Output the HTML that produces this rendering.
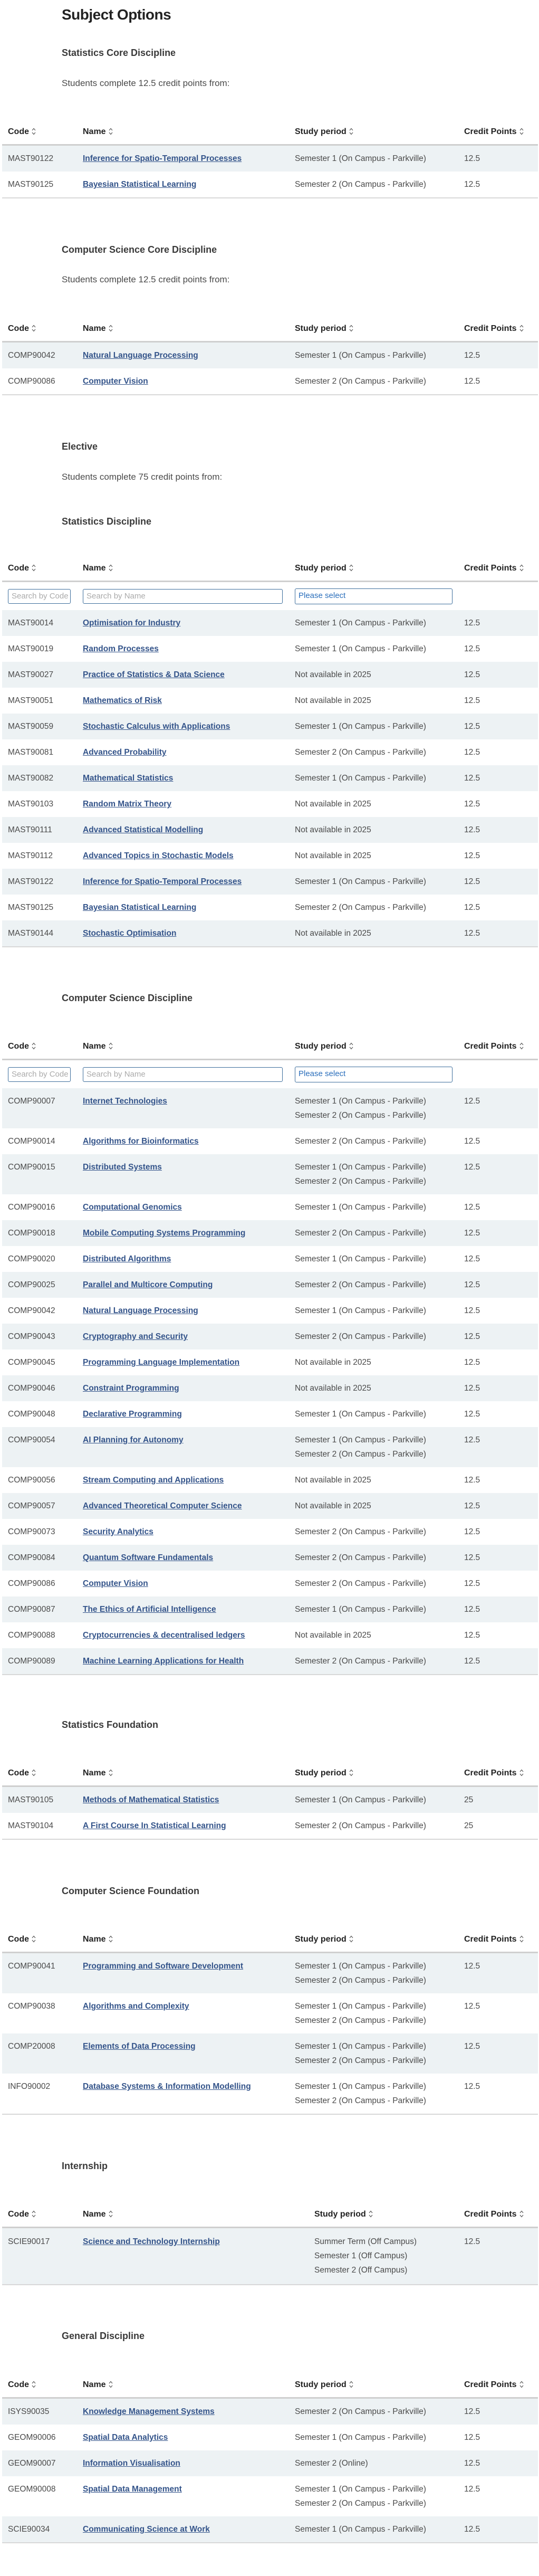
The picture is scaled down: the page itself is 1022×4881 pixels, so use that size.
<!DOCTYPE html>
<html><head><meta charset="utf-8">
<style>
*{margin:0;padding:0;box-sizing:border-box}
body{width:1022px;height:4881px;position:relative;background:#fff;font-family:"Liberation Sans",sans-serif;color:#4a4a4a;overflow:hidden}
.h{position:absolute;left:117px;line-height:30px;white-space:nowrap}
.h1{font-size:28px;font-weight:bold;color:#222;letter-spacing:-0.5px}
.h3{font-size:18px;font-weight:bold;color:#3a3a3a}
.p{font-size:17px;color:#4a4a4a}
.tbl{position:absolute;left:4px;width:1016px;border-bottom:2px solid #d8d8d8}
.hd{height:50px;border-bottom:3px solid #cfcfcf;display:flex;align-items:center;font-weight:bold;font-size:16px;color:#222;padding-left:11px}
.r{display:flex;padding:11px 0 11px 11px;line-height:27px;font-size:15.5px}
.r:nth-child(even){background:#edf2f4}
.fr{height:53px;position:relative}
.c1{width:142px;flex:none}.c2{width:402px;flex:none}.c3{width:321px;flex:none}.c4{flex:1}
.w .c2{width:439px}.w .c3{width:284px}
a{color:#34548a;font-weight:bold;text-decoration:underline}
.s{display:inline-block;vertical-align:middle;margin-left:5px}
.in{position:absolute;top:13px;height:28px;border:1.5px solid #3d6e9c;border-radius:3px;font-size:15px;color:#aaa;line-height:25px;padding-left:6px;overflow:hidden;white-space:nowrap}
</style></head><body>
<svg width="0" height="0" style="position:absolute"><defs><symbol id="srt" viewBox="0 0 8 14"><path d="M1 5 L4 1.5 L7 5 M1 9 L4 12.5 L7 9" fill="none" stroke="#555" stroke-width="1.2"/></symbol></defs></svg>

<div class="h h1" style="top:13px">Subject Options</div>
<div class="h h3" style="top:85px">Statistics Core Discipline</div>
<div class="h p" style="top:143px">Students complete 12.5 credit points from:</div>

<div class="tbl" style="top:226px">
<div class="hd"><div class="c1">Code<svg class="s" width="8" height="14"><use href="#srt"/></svg></div><div class="c2">Name<svg class="s" width="8" height="14"><use href="#srt"/></svg></div><div class="c3">Study period<svg class="s" width="8" height="14"><use href="#srt"/></svg></div><div class="c4">Credit Points<svg class="s" width="8" height="14"><use href="#srt"/></svg></div></div>
<div>
<div class="r" style="background:#edf2f4"><div class="c1">MAST90122</div><div class="c2"><a>Inference for Spatio-Temporal Processes</a></div><div class="c3">Semester 1 (On Campus - Parkville)</div><div class="c4">12.5</div></div>
<div class="r" style="background:#fff"><div class="c1">MAST90125</div><div class="c2"><a>Bayesian Statistical Learning</a></div><div class="c3">Semester 2 (On Campus - Parkville)</div><div class="c4">12.5</div></div>
</div></div>

<div class="h h3" style="top:458px">Computer Science Core Discipline</div>
<div class="h p" style="top:515px">Students complete 12.5 credit points from:</div>

<div class="tbl" style="top:599px">
<div class="hd"><div class="c1">Code<svg class="s" width="8" height="14"><use href="#srt"/></svg></div><div class="c2">Name<svg class="s" width="8" height="14"><use href="#srt"/></svg></div><div class="c3">Study period<svg class="s" width="8" height="14"><use href="#srt"/></svg></div><div class="c4">Credit Points<svg class="s" width="8" height="14"><use href="#srt"/></svg></div></div>
<div>
<div class="r" style="background:#edf2f4"><div class="c1">COMP90042</div><div class="c2"><a>Natural Language Processing</a></div><div class="c3">Semester 1 (On Campus - Parkville)</div><div class="c4">12.5</div></div>
<div class="r" style="background:#fff"><div class="c1">COMP90086</div><div class="c2"><a>Computer Vision</a></div><div class="c3">Semester 2 (On Campus - Parkville)</div><div class="c4">12.5</div></div>
</div></div>

<div class="h h3" style="top:831px">Elective</div>
<div class="h p" style="top:889px">Students complete 75 credit points from:</div>
<div class="h h3" style="top:973px">Statistics Discipline</div>

<div class="tbl" style="top:1053px">
<div class="hd"><div class="c1">Code<svg class="s" width="8" height="14"><use href="#srt"/></svg></div><div class="c2">Name<svg class="s" width="8" height="14"><use href="#srt"/></svg></div><div class="c3">Study period<svg class="s" width="8" height="14"><use href="#srt"/></svg></div><div class="c4">Credit Points<svg class="s" width="8" height="14"><use href="#srt"/></svg></div></div>
<div class="fr"><div class="in" style="left:11px;width:119px">Search by Code</div><div class="in" style="left:153px;width:379px">Search by Name</div><div class="in" style="left:555px;width:299px;color:#2a6ebb;top:12px;height:30px">Please select</div></div>
<div>
<div class="r" style="background:#edf2f4"><div class="c1">MAST90014</div><div class="c2"><a>Optimisation for Industry</a></div><div class="c3">Semester 1 (On Campus - Parkville)</div><div class="c4">12.5</div></div>
<div class="r" style="background:#fff"><div class="c1">MAST90019</div><div class="c2"><a>Random Processes</a></div><div class="c3">Semester 1 (On Campus - Parkville)</div><div class="c4">12.5</div></div>
<div class="r" style="background:#edf2f4"><div class="c1">MAST90027</div><div class="c2"><a>Practice of Statistics &amp; Data Science</a></div><div class="c3">Not available in 2025</div><div class="c4">12.5</div></div>
<div class="r" style="background:#fff"><div class="c1">MAST90051</div><div class="c2"><a>Mathematics of Risk</a></div><div class="c3">Not available in 2025</div><div class="c4">12.5</div></div>
<div class="r" style="background:#edf2f4"><div class="c1">MAST90059</div><div class="c2"><a>Stochastic Calculus with Applications</a></div><div class="c3">Semester 1 (On Campus - Parkville)</div><div class="c4">12.5</div></div>
<div class="r" style="background:#fff"><div class="c1">MAST90081</div><div class="c2"><a>Advanced Probability</a></div><div class="c3">Semester 2 (On Campus - Parkville)</div><div class="c4">12.5</div></div>
<div class="r" style="background:#edf2f4"><div class="c1">MAST90082</div><div class="c2"><a>Mathematical Statistics</a></div><div class="c3">Semester 1 (On Campus - Parkville)</div><div class="c4">12.5</div></div>
<div class="r" style="background:#fff"><div class="c1">MAST90103</div><div class="c2"><a>Random Matrix Theory</a></div><div class="c3">Not available in 2025</div><div class="c4">12.5</div></div>
<div class="r" style="background:#edf2f4"><div class="c1">MAST90111</div><div class="c2"><a>Advanced Statistical Modelling</a></div><div class="c3">Not available in 2025</div><div class="c4">12.5</div></div>
<div class="r" style="background:#fff"><div class="c1">MAST90112</div><div class="c2"><a>Advanced Topics in Stochastic Models</a></div><div class="c3">Not available in 2025</div><div class="c4">12.5</div></div>
<div class="r" style="background:#edf2f4"><div class="c1">MAST90122</div><div class="c2"><a>Inference for Spatio-Temporal Processes</a></div><div class="c3">Semester 1 (On Campus - Parkville)</div><div class="c4">12.5</div></div>
<div class="r" style="background:#fff"><div class="c1">MAST90125</div><div class="c2"><a>Bayesian Statistical Learning</a></div><div class="c3">Semester 2 (On Campus - Parkville)</div><div class="c4">12.5</div></div>
<div class="r" style="background:#edf2f4"><div class="c1">MAST90144</div><div class="c2"><a>Stochastic Optimisation</a></div><div class="c3">Not available in 2025</div><div class="c4">12.5</div></div>
</div></div>

<div class="h h3" style="top:1876px">Computer Science Discipline</div>

<div class="tbl" style="top:1959px">
<div class="hd"><div class="c1">Code<svg class="s" width="8" height="14"><use href="#srt"/></svg></div><div class="c2">Name<svg class="s" width="8" height="14"><use href="#srt"/></svg></div><div class="c3">Study period<svg class="s" width="8" height="14"><use href="#srt"/></svg></div><div class="c4">Credit Points<svg class="s" width="8" height="14"><use href="#srt"/></svg></div></div>
<div class="fr"><div class="in" style="left:11px;width:119px">Search by Code</div><div class="in" style="left:153px;width:379px">Search by Name</div><div class="in" style="left:555px;width:299px;color:#2a6ebb;top:12px;height:30px">Please select</div></div>
<div>
<div class="r" style="background:#edf2f4"><div class="c1">COMP90007</div><div class="c2"><a>Internet Technologies</a></div><div class="c3">Semester 1 (On Campus - Parkville)<br>Semester 2 (On Campus - Parkville)</div><div class="c4">12.5</div></div>
<div class="r" style="background:#fff"><div class="c1">COMP90014</div><div class="c2"><a>Algorithms for Bioinformatics</a></div><div class="c3">Semester 2 (On Campus - Parkville)</div><div class="c4">12.5</div></div>
<div class="r" style="background:#edf2f4"><div class="c1">COMP90015</div><div class="c2"><a>Distributed Systems</a></div><div class="c3">Semester 1 (On Campus - Parkville)<br>Semester 2 (On Campus - Parkville)</div><div class="c4">12.5</div></div>
<div class="r" style="background:#fff"><div class="c1">COMP90016</div><div class="c2"><a>Computational Genomics</a></div><div class="c3">Semester 1 (On Campus - Parkville)</div><div class="c4">12.5</div></div>
<div class="r" style="background:#edf2f4"><div class="c1">COMP90018</div><div class="c2"><a>Mobile Computing Systems Programming</a></div><div class="c3">Semester 2 (On Campus - Parkville)</div><div class="c4">12.5</div></div>
<div class="r" style="background:#fff"><div class="c1">COMP90020</div><div class="c2"><a>Distributed Algorithms</a></div><div class="c3">Semester 1 (On Campus - Parkville)</div><div class="c4">12.5</div></div>
<div class="r" style="background:#edf2f4"><div class="c1">COMP90025</div><div class="c2"><a>Parallel and Multicore Computing</a></div><div class="c3">Semester 2 (On Campus - Parkville)</div><div class="c4">12.5</div></div>
<div class="r" style="background:#fff"><div class="c1">COMP90042</div><div class="c2"><a>Natural Language Processing</a></div><div class="c3">Semester 1 (On Campus - Parkville)</div><div class="c4">12.5</div></div>
<div class="r" style="background:#edf2f4"><div class="c1">COMP90043</div><div class="c2"><a>Cryptography and Security</a></div><div class="c3">Semester 2 (On Campus - Parkville)</div><div class="c4">12.5</div></div>
<div class="r" style="background:#fff"><div class="c1">COMP90045</div><div class="c2"><a>Programming Language Implementation</a></div><div class="c3">Not available in 2025</div><div class="c4">12.5</div></div>
<div class="r" style="background:#edf2f4"><div class="c1">COMP90046</div><div class="c2"><a>Constraint Programming</a></div><div class="c3">Not available in 2025</div><div class="c4">12.5</div></div>
<div class="r" style="background:#fff"><div class="c1">COMP90048</div><div class="c2"><a>Declarative Programming</a></div><div class="c3">Semester 1 (On Campus - Parkville)</div><div class="c4">12.5</div></div>
<div class="r" style="background:#edf2f4"><div class="c1">COMP90054</div><div class="c2"><a>AI Planning for Autonomy</a></div><div class="c3">Semester 1 (On Campus - Parkville)<br>Semester 2 (On Campus - Parkville)</div><div class="c4">12.5</div></div>
<div class="r" style="background:#fff"><div class="c1">COMP90056</div><div class="c2"><a>Stream Computing and Applications</a></div><div class="c3">Not available in 2025</div><div class="c4">12.5</div></div>
<div class="r" style="background:#edf2f4"><div class="c1">COMP90057</div><div class="c2"><a>Advanced Theoretical Computer Science</a></div><div class="c3">Not available in 2025</div><div class="c4">12.5</div></div>
<div class="r" style="background:#fff"><div class="c1">COMP90073</div><div class="c2"><a>Security Analytics</a></div><div class="c3">Semester 2 (On Campus - Parkville)</div><div class="c4">12.5</div></div>
<div class="r" style="background:#edf2f4"><div class="c1">COMP90084</div><div class="c2"><a>Quantum Software Fundamentals</a></div><div class="c3">Semester 2 (On Campus - Parkville)</div><div class="c4">12.5</div></div>
<div class="r" style="background:#fff"><div class="c1">COMP90086</div><div class="c2"><a>Computer Vision</a></div><div class="c3">Semester 2 (On Campus - Parkville)</div><div class="c4">12.5</div></div>
<div class="r" style="background:#edf2f4"><div class="c1">COMP90087</div><div class="c2"><a>The Ethics of Artificial Intelligence</a></div><div class="c3">Semester 1 (On Campus - Parkville)</div><div class="c4">12.5</div></div>
<div class="r" style="background:#fff"><div class="c1">COMP90088</div><div class="c2"><a>Cryptocurrencies &amp; decentralised ledgers</a></div><div class="c3">Not available in 2025</div><div class="c4">12.5</div></div>
<div class="r" style="background:#edf2f4"><div class="c1">COMP90089</div><div class="c2"><a>Machine Learning Applications for Health</a></div><div class="c3">Semester 2 (On Campus - Parkville)</div><div class="c4">12.5</div></div>
</div></div>

<div class="h h3" style="top:3253px">Statistics Foundation</div>

<div class="tbl" style="top:3336px">
<div class="hd"><div class="c1">Code<svg class="s" width="8" height="14"><use href="#srt"/></svg></div><div class="c2">Name<svg class="s" width="8" height="14"><use href="#srt"/></svg></div><div class="c3">Study period<svg class="s" width="8" height="14"><use href="#srt"/></svg></div><div class="c4">Credit Points<svg class="s" width="8" height="14"><use href="#srt"/></svg></div></div>
<div>
<div class="r" style="background:#edf2f4"><div class="c1">MAST90105</div><div class="c2"><a>Methods of Mathematical Statistics</a></div><div class="c3">Semester 1 (On Campus - Parkville)</div><div class="c4">25</div></div>
<div class="r" style="background:#fff"><div class="c1">MAST90104</div><div class="c2"><a>A First Course In Statistical Learning</a></div><div class="c3">Semester 2 (On Campus - Parkville)</div><div class="c4">25</div></div>
</div></div>

<div class="h h3" style="top:3568px">Computer Science Foundation</div>

<div class="tbl" style="top:3651px">
<div class="hd"><div class="c1">Code<svg class="s" width="8" height="14"><use href="#srt"/></svg></div><div class="c2">Name<svg class="s" width="8" height="14"><use href="#srt"/></svg></div><div class="c3">Study period<svg class="s" width="8" height="14"><use href="#srt"/></svg></div><div class="c4">Credit Points<svg class="s" width="8" height="14"><use href="#srt"/></svg></div></div>
<div>
<div class="r" style="background:#edf2f4"><div class="c1">COMP90041</div><div class="c2"><a>Programming and Software Development</a></div><div class="c3">Semester 1 (On Campus - Parkville)<br>Semester 2 (On Campus - Parkville)</div><div class="c4">12.5</div></div>
<div class="r" style="background:#fff"><div class="c1">COMP90038</div><div class="c2"><a>Algorithms and Complexity</a></div><div class="c3">Semester 1 (On Campus - Parkville)<br>Semester 2 (On Campus - Parkville)</div><div class="c4">12.5</div></div>
<div class="r" style="background:#edf2f4"><div class="c1">COMP20008</div><div class="c2"><a>Elements of Data Processing</a></div><div class="c3">Semester 1 (On Campus - Parkville)<br>Semester 2 (On Campus - Parkville)</div><div class="c4">12.5</div></div>
<div class="r" style="background:#fff"><div class="c1">INFO90002</div><div class="c2"><a>Database Systems &amp; Information Modelling</a></div><div class="c3">Semester 1 (On Campus - Parkville)<br>Semester 2 (On Campus - Parkville)</div><div class="c4">12.5</div></div>
</div></div>

<div class="h h3" style="top:4089px">Internship</div>

<div class="tbl w" style="top:4172px">
<div class="hd"><div class="c1">Code<svg class="s" width="8" height="14"><use href="#srt"/></svg></div><div class="c2" style="width:439px">Name<svg class="s" width="8" height="14"><use href="#srt"/></svg></div><div class="c3" style="width:284px">Study period<svg class="s" width="8" height="14"><use href="#srt"/></svg></div><div class="c4">Credit Points<svg class="s" width="8" height="14"><use href="#srt"/></svg></div></div>
<div>
<div class="r" style="background:#edf2f4;padding-top:12px;padding-bottom:13px"><div class="c1">SCIE90017</div><div class="c2"><a>Science and Technology Internship</a></div><div class="c3">Summer Term (Off Campus)<br>Semester 1 (Off Campus)<br>Semester 2 (Off Campus)</div><div class="c4">12.5</div></div>
</div></div>

<div class="h h3" style="top:4411px">General Discipline</div>

<div class="tbl" style="top:4495px">
<div class="hd"><div class="c1">Code<svg class="s" width="8" height="14"><use href="#srt"/></svg></div><div class="c2">Name<svg class="s" width="8" height="14"><use href="#srt"/></svg></div><div class="c3">Study period<svg class="s" width="8" height="14"><use href="#srt"/></svg></div><div class="c4">Credit Points<svg class="s" width="8" height="14"><use href="#srt"/></svg></div></div>
<div>
<div class="r" style="background:#edf2f4"><div class="c1">ISYS90035</div><div class="c2"><a>Knowledge Management Systems</a></div><div class="c3">Semester 2 (On Campus - Parkville)</div><div class="c4">12.5</div></div>
<div class="r" style="background:#fff"><div class="c1">GEOM90006</div><div class="c2"><a>Spatial Data Analytics</a></div><div class="c3">Semester 1 (On Campus - Parkville)</div><div class="c4">12.5</div></div>
<div class="r" style="background:#edf2f4"><div class="c1">GEOM90007</div><div class="c2"><a>Information Visualisation</a></div><div class="c3">Semester 2 (Online)</div><div class="c4">12.5</div></div>
<div class="r" style="background:#fff"><div class="c1">GEOM90008</div><div class="c2"><a>Spatial Data Management</a></div><div class="c3">Semester 1 (On Campus - Parkville)<br>Semester 2 (On Campus - Parkville)</div><div class="c4">12.5</div></div>
<div class="r" style="background:#edf2f4"><div class="c1">SCIE90034</div><div class="c2"><a>Communicating Science at Work</a></div><div class="c3">Semester 1 (On Campus - Parkville)</div><div class="c4">12.5</div></div>
</div></div>

</body></html>
